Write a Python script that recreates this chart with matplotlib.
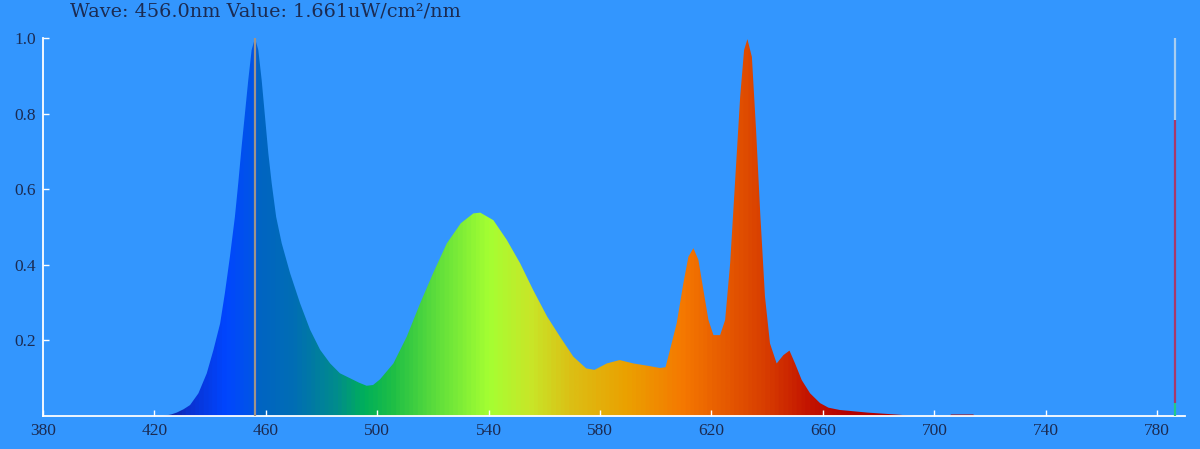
import numpy as np
import matplotlib
matplotlib.use('Agg')
import matplotlib.pyplot as plt
from matplotlib.colors import LinearSegmentedColormap

# ---------------- data ----------------
wavelengths = [380, 420, 423, 426, 428, 430.5, 432.8, 435.8, 438.8, 441.2, 443.6, 445.3, 447.1,
               448.9, 450.1, 451.3, 452.5, 453.7, 454.9, 456.1, 457.3, 458.5, 459.7, 460.9,
               462.1, 463.7, 465.7, 468.7, 472.3, 475.9, 479.5, 483.1, 486.6, 490.2, 493.5,
               496.2, 498.5, 501, 505.8, 510.6, 515.4, 520, 525, 530, 534.5, 537, 541.7, 546.5,
               551.3, 556, 561, 565.6, 570.4, 575, 578, 582.4, 587, 592, 597, 601.5, 603.5,
               605.1, 607.5, 609.9, 611.7, 613.5, 615.3, 617.1, 618.9, 620.7, 623.1, 624.9,
               626.7, 628.5, 630.3, 631.7, 632.9, 634.5, 636.0, 637.5, 639.2, 641.0, 643.4,
               645.8, 648.0, 650.0, 652.4, 655.4, 659.0, 662, 666, 676, 688, 693,
               705.5, 706, 714, 714.5, 790]
values = [0, 0, 0.0, 0.004, 0.009, 0.018, 0.029, 0.06, 0.113, 0.175, 0.245, 0.325, 0.421,
          0.527, 0.616, 0.712, 0.80, 0.889, 0.968, 1.0, 0.968, 0.889, 0.792, 0.695,
          0.616, 0.527, 0.457, 0.378, 0.298, 0.228, 0.175, 0.139, 0.113, 0.10, 0.088,
          0.08, 0.082, 0.097, 0.139, 0.21, 0.298, 0.377, 0.457, 0.51, 0.536, 0.538, 0.518,
          0.466, 0.404, 0.333, 0.263, 0.21, 0.157, 0.126, 0.122, 0.139, 0.148, 0.139, 0.133,
          0.127, 0.129, 0.175, 0.245, 0.351, 0.421, 0.444, 0.413, 0.333, 0.254, 0.214, 0.214,
          0.254, 0.404, 0.624, 0.845, 0.968, 0.997, 0.95, 0.757, 0.536, 0.316, 0.192, 0.139,
          0.161, 0.173, 0.139, 0.095, 0.06, 0.034, 0.022, 0.016, 0.009, 0.003, 0.0,
          0.0, 0.004, 0.004, 0.0, 0.0]

marker_wave = 456.0
marker_value = 1.661
right_wave = 786.5
right_levels = [0.0, 0.034, 0.783, 1.0]
right_colors = ['#22c98a', '#a8386a', '#a9cdf0']

xticks = [380, 420, 460, 500, 540, 580, 620, 660, 700, 740, 780]
yticks = [0.2, 0.4, 0.6, 0.8, 1.0]
ytick_labels = ['0.2', '0.4', '0.6', '0.8', '1.0']

# wavelength colour stops
grad_waves = [380, 420, 432, 445, 455, 457, 470, 485, 495, 505, 520, 540, 555, 570, 590, 610,
              625, 640, 655, 670, 790]
grad_colors = ['#141e8c', '#141e8c', '#0a32d2', '#0046ff', '#0055e6', '#0064c3', '#006eb4',
               '#008c8c', '#00af5a', '#1ebe46', '#5adc3c', '#a5ff32', '#c8e628', '#dcbe14',
               '#eba000', '#f57800', '#e65a00', '#d73c00', '#c31400', '#b40000', '#b40000']

# ---------------- plot ----------------
bg = '#3396fe'
text_col = '#1b2b52'
fig = plt.figure(figsize=(12, 4.49), dpi=100, facecolor=bg)
ax = fig.add_axes([43 / 1200, 33 / 449, 1142 / 1200, 378 / 449])
ax.set_facecolor(bg)
x0, x1 = 380, 790
ax.set_xlim(x0, x1)
ax.set_ylim(0, 1.0)

stops = [((w - x0) / (x1 - x0), c) for w, c in zip(grad_waves, grad_colors)]
cmap = LinearSegmentedColormap.from_list('spec', stops)
poly = ax.fill_between(wavelengths, values, 0, color='none', lw=0)
grad = np.linspace(0, 1, 1200).reshape(1, -1)
im = ax.imshow(grad, extent=[x0, x1, 0, 1], aspect='auto', cmap=cmap, origin='lower',
               interpolation='bilinear', zorder=1)
im.set_clip_path(poly.get_paths()[0], transform=ax.transData)

ax.plot([marker_wave, marker_wave], [0, 1.0], color='#a09488', lw=1.6, zorder=3)
for lo, hi, c in zip(right_levels[:-1], right_levels[1:], right_colors):
    ax.plot([right_wave, right_wave], [lo, hi], color=c, lw=1.6, zorder=3, solid_capstyle='butt')

for s in ['top', 'right']:
    ax.spines[s].set_visible(False)
for s in ['left', 'bottom']:
    ax.spines[s].set_color('white')
    ax.spines[s].set_linewidth(1.3)

ax.set_xticks(xticks)
ax.set_yticks(yticks)
ax.set_yticklabels(ytick_labels)
ax.tick_params(direction='in', color='white', length=4, width=1, labelcolor=text_col,
               labelsize=12.5, pad=5)
for lab in ax.get_xticklabels() + ax.get_yticklabels():
    lab.set_fontfamily('Liberation Serif')

fig.text(70 / 1200, 1 - 2 / 449,
         'Wave: %.1fnm Value: %.3fuW/cm\u00b2/nm' % (marker_wave, marker_value),
         ha='left', va='top', fontsize=13.9, family='DejaVu Serif', color=text_col)

fig.savefig('out.png', dpi=100, facecolor=bg)
